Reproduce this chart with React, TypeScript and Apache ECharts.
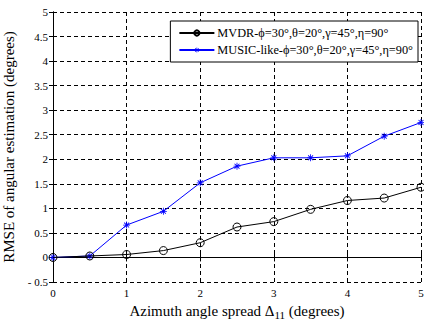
import React, { useEffect, useRef } from "react";
import * as echarts from "echarts";

const xValues = [0, 0.5, 1, 1.5, 2, 2.5, 3, 3.5, 4, 4.5, 5];
const mvdr = [0, 0.03, 0.06, 0.14, 0.3, 0.62, 0.73, 0.98, 1.16, 1.21, 1.43];
const music = [0, 0.03, 0.66, 0.94, 1.52, 1.86, 2.03, 2.03, 2.07, 2.47, 2.75];
const seriesNames = [
  "MVDR-\u03D5=30\u00B0,\u03B8=20\u00B0,\u03B3=45\u00B0,\u03B7=90\u00B0",
  "MUSIC-like-\u03D5=30\u00B0,\u03B8=20\u00B0,\u03B3=45\u00B0,\u03B7=90\u00B0",
];

const FONT = "Liberation Serif";
const star =
  "path://M-0.12,-1L0.12,-1L0.12,1L-0.12,1Z M-1,-0.12L1,-0.12L1,0.12L-1,0.12Z M-0.79,-0.62L-0.62,-0.79L0.79,0.62L0.62,0.79Z M0.62,-0.79L0.79,-0.62L-0.62,0.79L-0.79,0.62Z";

export default function App() {
  const ref = useRef<HTMLDivElement>(null);
  useEffect(() => {
    const chart = echarts.init(ref.current!, null, { renderer: "svg" });
    chart.setOption({
      animation: false,
      backgroundColor: "#fff",
      grid: { left: 53, right: 3, top: 12, bottom: 40, outerBoundsMode: "none", containLabel: false },
      legend: {
        orient: "vertical",
        right: 6,
        top: 21,
        backgroundColor: "#fff",
        borderColor: "#000",
        borderWidth: 1,
        borderRadius: 0,
        padding: [6, 5, 6, 8],
        itemGap: 5,
        itemWidth: 35,
        itemHeight: 6.5,
        textStyle: {
          fontFamily: FONT,
          fontSize: 12.3,
          lineHeight: 12,
          color: "#000",
          padding: [0, 0, 0, -2],
        },
        data: seriesNames,
      },
      xAxis: [
        {
          type: "value",
          min: 0,
          max: 5,
          interval: 1,
          name: "{a|Azimuth angle spread \u0394}{s|11}{a| (degrees)}",
          nameLocation: "middle",
          nameGap: 19,
          nameTextStyle: {
            fontWeight: "normal",
            rich: {
              a: { fontFamily: FONT, fontSize: 15, fontWeight: "normal", color: "#000" },
              s: { fontFamily: FONT, fontSize: 11, fontWeight: "normal", color: "#000", padding: [8, 0, 0, 0] },
            },
          },
          axisLine: { lineStyle: { color: "#000", width: 1 } },
          axisTick: { inside: true, length: 4, lineStyle: { color: "#000" } },
          axisLabel: { fontFamily: FONT, fontSize: 11, color: "#000", margin: 5 },
          splitLine: { show: true, lineStyle: { color: "#000", type: [4, 3], width: 1 } },
        },
        {
          type: "value",
          position: "top",
          min: 0,
          max: 5,
          interval: 1,
          axisLine: { show: true, lineStyle: { color: "#000", width: 1 } },
          axisTick: { show: true, inside: true, length: 4, lineStyle: { color: "#000" } },
          axisLabel: { show: false },
          splitLine: { show: false },
        },
      ],
      yAxis: [
        {
          type: "value",
          min: -0.5,
          max: 5,
          interval: 0.5,
          name: "RMSE of angular estimation (degrees)",
          nameLocation: "middle",
          nameGap: 34,
          nameTextStyle: { fontFamily: FONT, fontSize: 15, fontWeight: "normal", color: "#000" },
          axisLine: { show: true, lineStyle: { color: "#000", width: 1 } },
          axisTick: { show: true, inside: true, length: 4, lineStyle: { color: "#000" } },
          axisLabel: {
            fontFamily: FONT,
            fontSize: 11,
            color: "#000",
            margin: 5,
            formatter: (v: number) => (v < 0 ? "- " + Math.abs(v) : String(v)),
          },
          splitLine: { show: true, lineStyle: { color: "#000", type: [4, 3], width: 1 } },
        },
        {
          type: "value",
          position: "right",
          min: -0.5,
          max: 5,
          interval: 0.5,
          axisLine: { show: true, lineStyle: { color: "#000", width: 1 } },
          axisTick: { show: true, inside: true, length: 4, lineStyle: { color: "#000" } },
          axisLabel: { show: false },
          splitLine: { show: false },
        },
      ],
      series: [
        {
          name: seriesNames[0],
          type: "line",
          data: xValues.map((x, i) => [x, mvdr[i]]),
          symbol: "circle",
          symbolSize: 8,
          showAllSymbol: true,
          lineStyle: { color: "#000", width: 1 },
          itemStyle: { color: "rgba(0,0,0,0)", borderColor: "#000", borderWidth: 1 },
          z: 3,
        },
        {
          name: seriesNames[1],
          type: "line",
          data: xValues.map((x, i) => [x, music[i]]),
          symbol: star,
          symbolSize: 7,
          showAllSymbol: true,
          lineStyle: { color: "#0000ff", width: 1 },
          itemStyle: { color: "#0000ff", borderWidth: 0 },
          z: 2,
        },
      ],
    });
    return () => chart.dispose();
  }, []);
  return (
    <div
      ref={ref}
      style={{ position: "fixed", left: 0, top: 0, width: 424, height: 322 }}
    />
  );
}
